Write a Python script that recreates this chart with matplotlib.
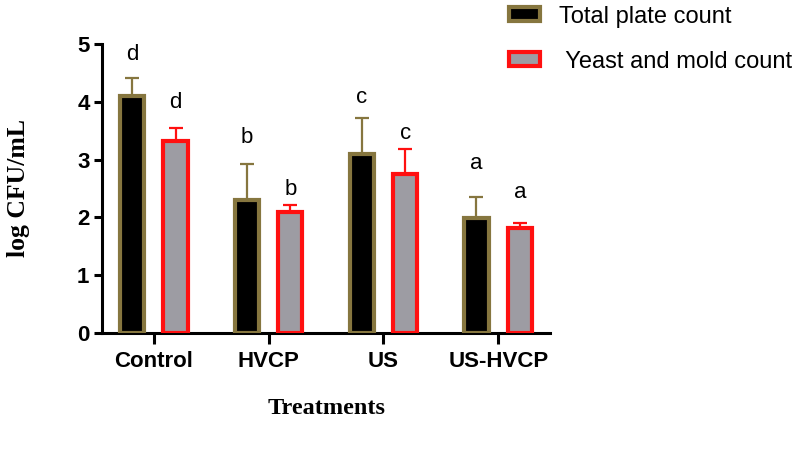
import matplotlib
matplotlib.use("Agg")
import matplotlib.pyplot as plt
from matplotlib.patches import Patch
import numpy as np

categories = ["Control", "HVCP", "US", "US-HVCP"]
tpc_mean = [4.11, 2.30, 3.10, 1.99]
tpc_err = [0.31, 0.63, 0.62, 0.37]
ym_mean = [3.33, 2.10, 2.75, 1.82]
ym_err = [0.22, 0.12, 0.44, 0.09]
tpc_letters = ["d", "b", "c", "a"]
ym_letters = ["d", "b", "c", "a"]
tpc_letter_y = [4.82, 3.38, 4.07, 2.93]
ym_letter_y = [3.99, 2.48, 3.45, 2.43]
series_labels = ["Total plate count", " Yeast and mold count"]

olive = "#86763f"
red = "#ff1010"
gray = "#9d9ca3"

fig = plt.figure(figsize=(8, 4.5), dpi=100)
ax = fig.add_axes([0.1275, 0.26, 0.56, 0.642])

x = np.arange(len(categories))
off = 0.19
w = 0.21
ax.bar(x - off, tpc_mean, w, color="black", edgecolor=olive, linewidth=3, zorder=3)
ax.bar(x + off, ym_mean, w, color=gray, edgecolor=red, linewidth=3, zorder=3)
ax.errorbar(x - off, tpc_mean, yerr=[np.zeros(4), tpc_err], fmt="none",
            ecolor=olive, elinewidth=1.6, capsize=5, capthick=1.6, zorder=2)
ax.errorbar(x + off, ym_mean, yerr=[np.zeros(4), ym_err], fmt="none",
            ecolor=red, elinewidth=1.6, capsize=5, capthick=1.6, zorder=2)

for i in range(len(categories)):
    ax.text(x[i] - off, tpc_letter_y[i], tpc_letters[i], ha="center", va="center",
            fontsize=16, family="Liberation Sans")
    ax.text(x[i] + off, ym_letter_y[i], ym_letters[i], ha="center", va="center",
            fontsize=16, family="Liberation Sans")

ax.set_xlim(-0.45, 3.45)
ax.set_ylim(0, 5)
ax.set_yticks([0, 1, 2, 3, 4, 5])
ax.set_xticks(x)
ax.set_xticklabels(categories)
for lab in ax.get_xticklabels() + ax.get_yticklabels():
    lab.set_fontfamily("Liberation Sans")
    lab.set_fontweight("bold")
    lab.set_fontsize(16)
ax.spines["top"].set_visible(False)
ax.spines["right"].set_visible(False)
ax.spines["left"].set_linewidth(2.2)
ax.spines["bottom"].set_linewidth(2.2)
ax.tick_params(axis="y", length=6, width=2.2, pad=3)
ax.tick_params(axis="x", length=8, width=2.2, pad=5)

fig.text(0.023, 0.582, "log CFU/mL", rotation=90, ha="center", va="center",
         fontsize=18.5, fontweight="bold", family="Liberation Serif")
fig.text(0.408, 0.093, "Treatments", ha="center", va="center",
         fontsize=17.5, fontweight="bold", family="Liberation Serif")

handles = [Patch(facecolor="black", edgecolor=olive, linewidth=3),
           Patch(facecolor=gray, edgecolor=red, linewidth=3)]
leg = fig.legend(handles, series_labels, loc="upper left", bbox_to_anchor=(0.61, 1.035),
                 frameon=False, handlelength=1.32, handleheight=0.55,
                 labelspacing=0.98, handletextpad=0.8,
                 prop={"family": "Liberation Sans", "size": 17})

fig.savefig("out.png", dpi=100)
